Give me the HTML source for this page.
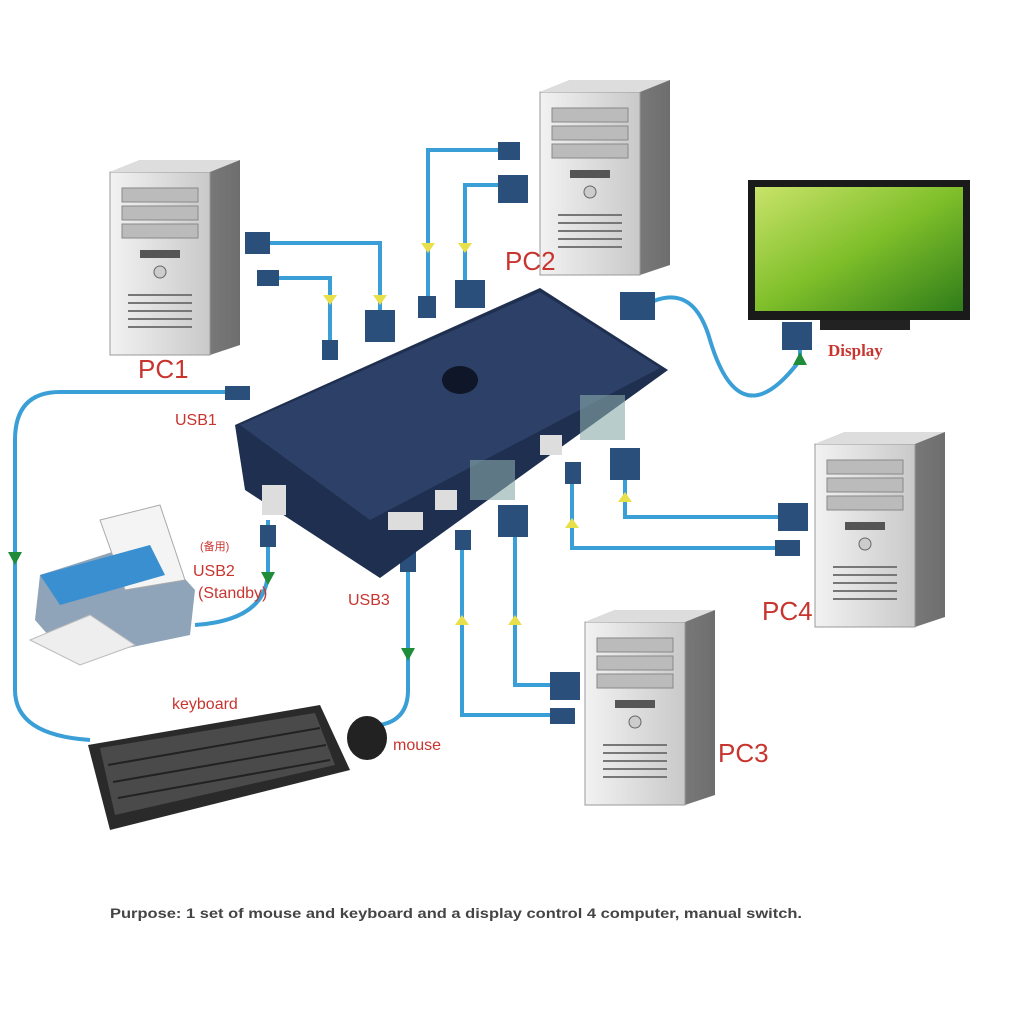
<!DOCTYPE html>
<html><head><meta charset="utf-8"><style>
body{margin:0;background:#fff;width:1024px;height:1024px;overflow:hidden}
svg{display:block}
.lbl{font-family:"Liberation Sans",sans-serif;fill:#c8352f}
</style></head><body>
<svg width="1024" height="1024" viewBox="0 0 1024 1024">
<defs>
<linearGradient id="tw" x1="0" x2="1"><stop offset="0" stop-color="#f2f2f2"/><stop offset="1" stop-color="#c9c9c9"/></linearGradient>
<linearGradient id="ts" x1="0" x2="1"><stop offset="0" stop-color="#9a9a9a"/><stop offset="1" stop-color="#6e6e6e"/></linearGradient>
<linearGradient id="scr" x1="0" y1="0" x2="1" y2="1"><stop offset="0" stop-color="#c9e36a"/><stop offset=".5" stop-color="#7fbf2a"/><stop offset="1" stop-color="#2f7d1a"/></linearGradient>
<g id="tower">
<polygon points="0,12 30,0 130,0 130,185 100,195 0,185" fill="url(#ts)"/>
<rect x="0" y="12" width="100" height="183" fill="url(#tw)" stroke="#999"/>
<polygon points="0,12 30,0 130,0 100,12" fill="#ddd"/>
<rect x="12" y="28" width="76" height="14" fill="#bbb" stroke="#888"/>
<rect x="12" y="46" width="76" height="14" fill="#bbb" stroke="#888"/>
<rect x="12" y="64" width="76" height="14" fill="#bbb" stroke="#888"/>
<rect x="30" y="90" width="40" height="8" fill="#555"/>
<circle cx="50" cy="112" r="6" fill="#ccc" stroke="#666"/>
<g stroke="#777" stroke-width="2"><line x1="18" y1="135" x2="82" y2="135"/><line x1="18" y1="143" x2="82" y2="143"/><line x1="18" y1="151" x2="82" y2="151"/><line x1="18" y1="159" x2="82" y2="159"/><line x1="18" y1="167" x2="82" y2="167"/></g>
</g>
</defs>
<g fill="none" stroke="#3a9fd6" stroke-width="4">
<path d="M250,243 H380 V325"/><path d="M262,278 H330 V350"/>
<path d="M240,392 H60 Q15,392 15,440 V690 Q15,735 90,740"/>
<path d="M268,520 V570 Q268,620 195,625"/>
<path d="M408,555 V690 Q408,720 380,725"/>
<path d="M515,150 H428 V300"/><path d="M515,185 H465 V285"/>
<path d="M630,315 Q690,270 710,340 Q740,440 800,360 V345"/>
<path d="M625,455 V517 H785"/><path d="M572,470 V548 H785"/>
<path d="M462,530 V715 H560"/><path d="M515,520 V685 H560"/>
</g>
<g fill="#2a4f7a"><rect x="245" y="232" width="25" height="22"/><rect x="257" y="270" width="22" height="16"/>
<rect x="365" y="310" width="30" height="32"/><rect x="322" y="340" width="16" height="20"/>
<rect x="498" y="142" width="22" height="18"/><rect x="498" y="175" width="30" height="28"/>
<rect x="418" y="296" width="18" height="22"/><rect x="455" y="280" width="30" height="28"/>
<rect x="620" y="292" width="35" height="28"/><rect x="782" y="322" width="30" height="28"/>
<rect x="610" y="448" width="30" height="32"/><rect x="565" y="462" width="16" height="22"/>
<rect x="778" y="503" width="30" height="28"/><rect x="775" y="540" width="25" height="16"/>
<rect x="498" y="505" width="30" height="32"/><rect x="455" y="530" width="16" height="20"/>
<rect x="550" y="672" width="30" height="28"/><rect x="550" y="708" width="25" height="16"/>
<rect x="225" y="386" width="25" height="14"/><rect x="260" y="525" width="16" height="22"/><rect x="400" y="550" width="16" height="22"/></g>
<g fill="#1f8c3a"><polygon points="8,552 22,552 15,565"/><polygon points="261,572 275,572 268,585"/><polygon points="401,648 415,648 408,661"/><polygon points="793,365 807,365 800,352"/></g>
<g fill="#e8e04a"><polygon points="323,295 337,295 330,305"/><polygon points="373,295 387,295 380,305"/><polygon points="421,243 435,243 428,253"/><polygon points="458,243 472,243 465,253"/><polygon points="618,502 632,502 625,492"/><polygon points="565,528 579,528 572,518"/><polygon points="455,625 469,625 462,615"/><polygon points="508,625 522,625 515,615"/></g>
<use href="#tower" x="110" y="160"/>
<use href="#tower" x="540" y="80"/>
<use href="#tower" x="815" y="432"/>
<use href="#tower" x="585" y="610"/>
<rect x="748" y="180" width="222" height="140" fill="#1a1a1a"/>
<rect x="755" y="187" width="208" height="124" fill="url(#scr)"/>
<rect x="820" y="320" width="90" height="10" fill="#222"/>
<polygon points="235,425 540,288 668,370 380,578 245,490" fill="#1f2f4f"/>
<polygon points="240,425 540,292 660,368 370,520" fill="#2d4068"/>
<ellipse cx="460" cy="380" rx="18" ry="14" fill="#0e1628"/>
<rect x="470" y="460" width="45" height="40" fill="#8aa" opacity=".6"/><rect x="580" y="395" width="45" height="45" fill="#8aa" opacity=".6"/>
<rect x="435" y="490" width="22" height="20" fill="#ddd"/><rect x="540" y="435" width="22" height="20" fill="#ddd"/>
<rect x="388" y="512" width="35" height="18" fill="#ddd"/><rect x="262" y="485" width="24" height="30" fill="#ddd"/>
<polygon points="40,575 150,540 195,590 190,635 70,660 35,620" fill="#8fa4b8"/>
<polygon points="100,520 160,505 185,580 125,590" fill="#f4f4f4" stroke="#aaa"/>
<polygon points="40,575 150,545 165,575 60,605" fill="#3a8fd0"/>
<polygon points="30,640 90,615 135,645 80,665" fill="#eee" stroke="#bbb"/>
<polygon points="88,745 320,705 350,770 110,830" fill="#2a2a2a"/>
<polygon points="100,748 315,713 335,765 115,815" fill="#4a4a4a"/>
<g stroke="#222" stroke-width="2"><line x1="108" y1="765" x2="320" y2="728"/><line x1="113" y1="782" x2="326" y2="745"/><line x1="118" y1="798" x2="330" y2="760"/></g>
<ellipse cx="367" cy="738" rx="20" ry="22" fill="#222"/>
<text class="lbl" x="138" y="378" font-size="26">PC1</text>
<text class="lbl" x="505" y="270" font-size="26">PC2</text>
<text class="lbl" x="762" y="620" font-size="26">PC4</text>
<text class="lbl" x="718" y="762" font-size="26">PC3</text>
<text class="lbl" x="175" y="425" font-size="16">USB1</text>
<text class="lbl" x="200" y="550" font-size="11">(备用)</text>
<text class="lbl" x="193" y="576" font-size="16">USB2</text>
<text class="lbl" x="198" y="598" font-size="16">(Standby)</text>
<text class="lbl" x="348" y="605" font-size="16">USB3</text>
<text class="lbl" x="172" y="709" font-size="16">keyboard</text>
<text class="lbl" x="393" y="750" font-size="16">mouse</text>
<text x="828" y="356" font-size="17" font-weight="bold" font-family="Liberation Serif,serif" fill="#c8352f">Display</text>
<text x="110" y="918" font-size="13.5" font-weight="bold" textLength="692" lengthAdjust="spacingAndGlyphs" font-family="Liberation Sans,sans-serif" fill="#444">Purpose: 1 set of mouse and keyboard and a display control 4 computer, manual switch.</text>
</svg>
</body></html>
